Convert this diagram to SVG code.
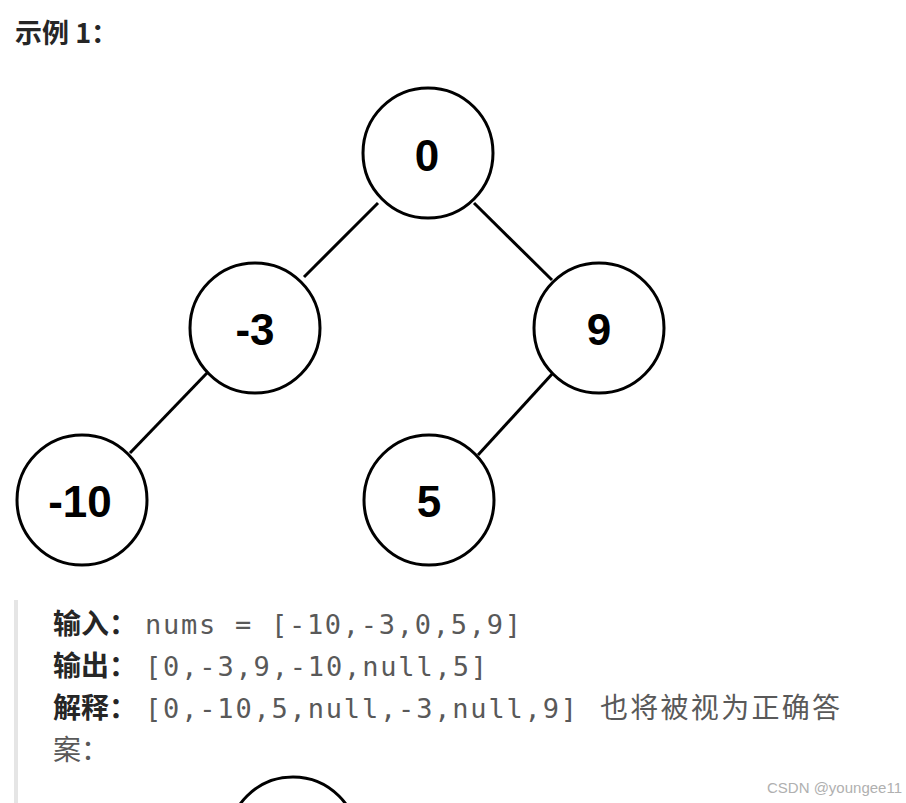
<svg xmlns="http://www.w3.org/2000/svg" width="906" height="803" viewBox="0 0 906 803">
<style>
.n{fill:#fff;stroke:#000;stroke-width:3}
.t{font-family:"Liberation Sans",Arial,sans-serif;font-weight:bold;font-size:44px;fill:#000;text-anchor:middle}
.e{stroke:#000;stroke-width:3}
.lab{font-family:"Noto Sans CJK SC",sans-serif;font-weight:bold;font-size:28px;fill:#262626}
.val{font-family:"DejaVu Sans Mono","Liberation Mono",monospace;font-size:27px;fill:#595959}
.cn{font-family:"Noto Sans CJK SC",sans-serif;font-size:28px;fill:#595959}
</style>
<rect width="906" height="803" fill="#fff"/>
<text x="15" y="43" font-family="Noto Sans CJK SC, sans-serif" font-weight="bold" font-size="27" fill="#262626">示例 1：</text>
<g id="edges">
<line class="e" x1="378" y1="203" x2="304" y2="277"/>
<line class="e" x1="474" y1="203" x2="552" y2="280"/>
<line class="e" x1="207" y1="373" x2="130" y2="453"/>
<line class="e" x1="553" y1="373" x2="478" y2="455"/>
</g>
<g id="n0"><circle class="n" cx="428" cy="153" r="65"/><text class="t" x="427" y="171">0</text></g>
<g id="nm3"><circle class="n" cx="255" cy="328" r="65"/><text class="t" x="255" y="345">-3</text></g>
<g id="n9"><circle class="n" cx="599" cy="328" r="65"/><text class="t" x="599" y="345">9</text></g>
<g id="nm10"><circle class="n" cx="82" cy="500" r="65"/><text class="t" x="80" y="517">-10</text></g>
<g id="n5"><circle class="n" cx="429" cy="500" r="65"/><text class="t" x="429" y="517">5</text></g>
<rect x="14" y="600" width="4" height="203" fill="#e5e5e5"/>
<text class="lab" x="53" y="634">输入：</text>
<text class="val" x="145" y="634" textLength="376" lengthAdjust="spacing">nums = [-10,-3,0,5,9]</text>
<text class="lab" x="53" y="676">输出：</text>
<text class="val" x="145" y="676" textLength="342" lengthAdjust="spacing">[0,-3,9,-10,null,5]</text>
<text class="lab" x="53" y="718">解释：</text>
<text class="val" x="145" y="718" textLength="432" lengthAdjust="spacing">[0,-10,5,null,-3,null,9]</text>
<text class="cn" x="600" y="718" textLength="240" lengthAdjust="spacing">也将被视为正确答</text>
<text class="cn" x="53" y="760">案：</text>
<g id="nbottom"><circle class="n" cx="293" cy="842" r="65"/></g>
<text x="902" y="793" text-anchor="end" font-family="Liberation Sans, Arial, sans-serif" font-size="15" fill="#b0b0b0">CSDN @youngee11</text>
</svg>
